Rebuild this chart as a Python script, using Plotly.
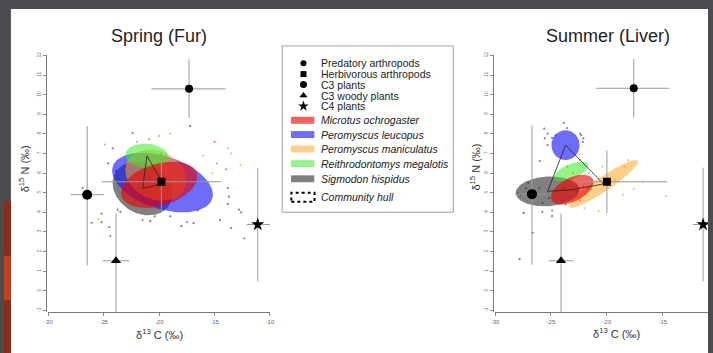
import numpy as np
import plotly.graph_objects as go

W, H = 713, 353

# ---------------- data ----------------
species = ["Microtus ochrogaster", "Peromyscus leucopus", "Peromyscus maniculatus",
           "Reithrodontomys megalotis", "Sigmodon hispidus"]
sp_colors = {"Microtus ochrogaster": "rgba(235,0,0,0.62)",
             "Peromyscus leucopus": "rgba(20,20,245,0.62)",
             "Peromyscus maniculatus": "rgba(255,165,40,0.55)",
             "Reithrodontomys megalotis": "rgba(60,235,40,0.55)",
             "Sigmodon hispidus": "rgba(50,50,50,0.62)"}
dot_colors = {"Microtus ochrogaster": "rgba(220,60,60,0.7)",
              "Peromyscus leucopus": "rgba(60,60,220,0.7)",
              "Peromyscus maniculatus": "rgba(240,160,70,0.7)",
              "Reithrodontomys megalotis": "rgba(90,200,70,0.7)",
              "Sigmodon hispidus": "rgba(70,70,70,0.7)"}
draw_order = ["Sigmodon hispidus", "Peromyscus leucopus", "Peromyscus maniculatus",
              "Reithrodontomys megalotis", "Microtus ochrogaster"]

# Standard ellipses: centre x, centre y, sd x, sd y, correlation
spring_ell = {
    "Microtus ochrogaster":      (-20.0, 5.41, 3.45, 1.18, 0.35),
    "Peromyscus leucopus":       (-19.7, 5.52, 4.55, 1.52, -0.40),
    "Peromyscus maniculatus":    (-20.3, 5.90, 2.75, 1.30, -0.20),
    "Reithrodontomys megalotis": (-21.1, 6.88, 1.94, 0.63, -0.10),
    "Sigmodon hispidus":         (-21.5, 5.22, 2.70, 1.37, -0.20),
}
summer_ell = {
    "Microtus ochrogaster":      (-23.1, 5.16, 1.91, 0.76, 0.50),
    "Peromyscus leucopus":       (-23.7, 7.43, 1.26, 0.76, 0.00),
    "Peromyscus maniculatus":    (-20.3, 5.45, 3.09, 1.22, 0.93),
    "Reithrodontomys megalotis": (-23.2, 6.08, 1.54, 0.51, 0.60),
    "Sigmodon hispidus":         (-25.3, 5.07, 2.85, 0.76, 0.10),
}

# individual consumer values
spring_dots = {
    "Peromyscus leucopus": ([-22.4, -17.2, -26.9, -24.2, -23.0, -16.9, -13.8, -12.6, -14.5, -18.0, -24.6, -23.9],
                            [8.05, 8.41, 5.24, 7.26, 6.3, 3.45, 5.24, 4.0, 3.6, 3.3, 6.5, 6.1]),
    "Microtus ochrogaster": ([-20.9, -15.0, -13.95, -16.5, -24.4, -21.5, -17.5],
                             [7.73, 7.6, 6.2, 4.1, 2.8, 3.6, 3.5]),
    "Peromyscus maniculatus": ([-19.0, -13.8, -13.5, -12.65, -16.0, -25.5, -15.2],
                               [8.02, 7.26, 7.0, 6.42, 6.9, 3.64, 6.0]),
    "Reithrodontomys megalotis": ([-24.9, -20.0, -14.8, -22.0],
                                  [7.46, 7.9, 6.5, 7.6]),
    "Sigmodon hispidus": ([-26.1, -25.2, -25.2, -24.5, -23.75, -23.5, -20.8, -19.0, -20.4, -13.7, -13.8, -13.5, -12.3, -12.8],
                          [3.47, 3.94, 3.5, 3.25, 4.14, 4.03, 3.55, 3.8, 3.8, 4.8, 4.43, 3.2, 2.68, 4.14]),
}
summer_dots = {
    "Peromyscus leucopus": ([-25.6, -25.3, -25.55, -24.9, -24.6, -23.85, -23.55, -22.4, -22.1, -22.15, -22.3, -26.0, -25.3],
                            [8.27, 8.02, 7.77, 7.80, 7.93, 8.57, 8.30, 8.02, 7.77, 7.60, 7.93, 6.62, 7.43]),
    "Sigmodon hispidus": ([-27.97, -27.7, -27.44, -27.24, -27.03, -26.06, -25.76, -25.18, -26.62, -27.8, -25.77, -24.9],
                          [4.98, 4.9, 3.97, 5.24, 5.49, 5.24, 4.48, 4.73, 2.96, 1.61, 4.03, 3.81]),
    "Microtus ochrogaster": ([-23.85, -23.3, -22.7, -22.1, -21.7, -23.7, -22.4, -24.9],
                             [5.24, 4.74, 5.07, 5.32, 5.24, 4.4, 4.6, 4.1]),
    "Peromyscus maniculatus": ([-21.6, -20.4, -19.3, -18.56, -18.4, -18.1, -16.8, -14.73, -20.76, -17.6, -22.0],
                               [6.0, 6.33, 5.66, 4.9, 6.33, 6.66, 5.57, 4.82, 4.06, 5.2, 4.2]),
    "Reithrodontomys megalotis": ([-22.4, -23.55, -23.0, -26.0],
                                  [6.66, 6.33, 6.0, 6.62]),
}

# diet sources: mean and error-bar extents (minus/plus)
source_names = ["Predatory arthropods", "Herbivorous arthropods", "C3 plants",
                "C3 woody plants", "C4 plants"]
source_symbols = ["circle", "square", "circle", "triangle-up", "star"]
source_sizes = [8, 8, 10, 9, 10]

spring_src_x = [-17.3, -19.8, -26.5, -23.9, -11.1]
spring_src_y = [10.3, 5.56, 4.9, 1.53, 3.38]
spring_src_xm = [3.4, 5.4, 1.5, 1.2, 1.0]
spring_src_xp = [3.3, 5.4, 1.5, 1.2, 1.2]
spring_src_ym = [1.5, 1.55, 3.6, 3.0, 2.9]
spring_src_yp = [1.5, 1.5, 3.5, 2.4, 2.9]

summer_src_x = [-17.6, -20.0, -26.7, -24.1, -11.4]
summer_src_y = [10.33, 5.56, 4.93, 1.53, 3.38]
summer_src_xm = [3.4, 2.4, 1.5, 1.1, 0.9]
summer_src_xp = [3.2, 5.4, 1.3, 1.1, 1.2]
summer_src_ym = [1.5, 1.6, 3.6, 3.0, 2.9]
summer_src_yp = [1.5, 1.6, 3.5, 2.4, 2.9]

x_ticks = [-30, -25, -20, -15, -10]
y_ticks = list(range(-1, 13))

# ---------------- helpers ----------------
def px(x):
    return x / W

def py(y):
    return 1 - y / H

def ellipse(cx, cy, sx, sy, r, n=120):
    t = np.linspace(0, 2 * np.pi, n)
    x = cx + sx * np.cos(t)
    y = cy + sy * (r * np.cos(t) + np.sqrt(1 - r * r) * np.sin(t))
    return x, y

def hull(points):
    pts = sorted(set(points))
    def cross(o, a, b):
        return (a[0]-o[0])*(b[1]-o[1]) - (a[1]-o[1])*(b[0]-o[0])
    lower, upper = [], []
    for p in pts:
        while len(lower) >= 2 and cross(lower[-2], lower[-1], p) <= 0:
            lower.pop()
        lower.append(p)
    for p in reversed(pts):
        while len(upper) >= 2 and cross(upper[-2], upper[-1], p) <= 0:
            upper.pop()
        upper.append(p)
    h = lower[:-1] + upper[:-1]
    return h + [h[0]]

fig = go.Figure()

def add_panel(ell, dots, sx_, sy_, sxm, sxp, sym, syp, xa, ya):
    for sp in species:
        dx, dy = dots[sp]
        fig.add_trace(go.Scatter(x=dx, y=dy, mode="markers", xaxis=xa, yaxis=ya,
                                 marker=dict(size=2.2, color=dot_colors[sp]),
                                 hoverinfo="skip"))
    for sp in draw_order:
        ex, ey = ellipse(*ell[sp])
        fig.add_trace(go.Scatter(x=ex, y=ey, mode="lines", fill="toself",
                                 fillcolor=sp_colors[sp], line=dict(width=0),
                                 xaxis=xa, yaxis=ya, name=sp))
    h = hull([(ell[sp][0], ell[sp][1]) for sp in species])
    fig.add_trace(go.Scatter(x=[p[0] for p in h], y=[p[1] for p in h], mode="lines",
                             line=dict(color="#222", width=0.8), xaxis=xa, yaxis=ya))
    for i, nm in enumerate(source_names):
        fig.add_trace(go.Scatter(
            x=[sx_[i]], y=[sy_[i]], mode="markers", xaxis=xa, yaxis=ya, name=nm,
            marker=dict(symbol=source_symbols[i], size=source_sizes[i], color="black"),
            error_x=dict(type="data", symmetric=False, array=[sxp[i]], arrayminus=[sxm[i]],
                         color="#9a9a9a", thickness=1, width=0),
            error_y=dict(type="data", symmetric=False, array=[syp[i]], arrayminus=[sym[i]],
                         color="#9a9a9a", thickness=1, width=0)))

add_panel(spring_ell, spring_dots, spring_src_x, spring_src_y, spring_src_xm, spring_src_xp,
          spring_src_ym, spring_src_yp, "x", "y")
add_panel(summer_ell, summer_dots, summer_src_x, summer_src_y, summer_src_xm, summer_src_xp,
          summer_src_ym, summer_src_yp, "x2", "y2")

ax_common = dict(showgrid=False, zeroline=False, showline=True, linecolor="#7a7a7a",
                 linewidth=1, ticks="outside", ticklen=3, tickcolor="#8a8a8a",
                 tickfont=dict(size=6, color="#666", family="Liberation Sans"))
ydom = [py(312), py(52)]
yrange = [-1.10, 12.05]

fig.update_layout(
    width=W, height=H, margin=dict(l=0, r=0, t=0, b=0),
    paper_bgcolor="#4b4b50", plot_bgcolor="rgba(0,0,0,0)", showlegend=False,
    font=dict(family="Liberation Sans", color="#222"),
    xaxis=dict(domain=[px(45), px(269.3)], range=[-30, -10], anchor="y",
               tickvals=x_ticks, ticktext=[str(v) for v in x_ticks], **ax_common),
    yaxis=dict(domain=ydom, range=yrange, anchor="free", position=px(43),
               tickvals=y_ticks, ticktext=[str(v) for v in y_ticks], tickangle=-90,
               **ax_common),
    xaxis2=dict(domain=[px(497.3), 1.0], range=[-30, -30 + 215.7 / 11.33], anchor="y2",
                tickvals=x_ticks, ticktext=[str(v) for v in x_ticks], **ax_common),
    yaxis2=dict(domain=ydom, range=yrange, anchor="free", position=px(495),
                tickvals=y_ticks, ticktext=[str(v) for v in y_ticks], tickangle=-90,
                **ax_common),
)
fig.update_yaxes(tickfont=dict(size=5, color="#777"))

shapes = [
    dict(type="rect", xref="paper", yref="paper", x0=px(7), x1=1.0, y0=0, y1=py(6),
         fillcolor="white", line=dict(width=0), layer="below"),
    dict(type="rect", xref="paper", yref="paper", x0=0, x1=px(7), y0=0, y1=py(200),
         fillcolor="#8a2a1a", line=dict(width=0), layer="below"),
    dict(type="rect", xref="paper", yref="paper", x0=0, x1=px(7), y0=py(300), y1=py(255),
         fillcolor="#c0401e", line=dict(width=0), layer="below"),
    # legend box
    dict(type="rect", xref="paper", yref="paper", x0=px(281.7), x1=px(455), y0=py(211),
         y1=py(43.3), fillcolor="white", line=dict(color="#a0a0a0", width=1), layer="below"),
]

def ann(text, x, y, size, xanchor="center", angle=0, color="#222"):
    return dict(text=text, x=px(x), y=py(y), xref="paper", yref="paper", showarrow=False,
                xanchor=xanchor, yanchor="middle", textangle=angle,
                font=dict(size=size, color=color))

annotations = [
    ann("Spring (Fur)", 157, 33, 18),
    ann("Summer (Liver)", 612, 33, 18),
    ann("δ<sup>15</sup> N (‰)", 20, 167, 11, angle=-90, color="#333"),
    ann("δ<sup>15</sup> N (‰)", 477, 165, 11, angle=-90, color="#333"),
    ann("δ<sup>13</sup> C (‰)", 157, 334, 11, color="#333"),
    ann("δ<sup>13</sup> C (‰)", 620, 333, 11, color="#333"),
]

# legend contents
leg_y_src = [60.7, 71.7, 82.3, 93.3, 104.0]
leg_y_sp = [118.3, 132.7, 147.3, 162.0, 177.3]
leg_sym_sizes = [6, 6, 7, 7, 8]
for i, nm in enumerate(source_names):
    fig.add_trace(go.Scatter(x=[px(303.3)], y=[py(leg_y_src[i])], xaxis="x3", yaxis="y3",
                             mode="markers",
                             marker=dict(symbol=source_symbols[i], size=leg_sym_sizes[i], color="black")))
    annotations.append(ann(nm, 319.3, leg_y_src[i], 10.5, xanchor="left"))
for i, sp in enumerate(species):
    shapes.append(dict(type="rect", xref="paper", yref="paper", x0=px(290.7), x1=px(314.3),
                       y0=py(leg_y_sp[i] + 3.5), y1=py(leg_y_sp[i] - 3.5),
                       fillcolor=sp_colors[sp], line=dict(width=0)))
    annotations.append(ann("<i>" + sp + "</i>", 319.3, leg_y_sp[i], 10.5, xanchor="left"))
shapes.append(dict(type="rect", xref="paper", yref="paper", x0=px(291), x1=px(314.5),
                   y0=py(200.5), y1=py(191.5), line=dict(color="black", width=2, dash="dot")))
annotations.append(ann("<i>Community hull</i>", 319.3, 195.7, 10.5, xanchor="left"))

fig.update_layout(
    shapes=shapes, annotations=annotations,
    xaxis3=dict(domain=[0, 1], range=[0, 1], visible=False, anchor="y3"),
    yaxis3=dict(domain=[0, 1], range=[0, 1], visible=False, anchor="x3"),
)

fig.write_html("out.html", config={"displayModeBar": False},
               post_script="document.body.style.margin='0';document.body.style.padding='0';"
                           "document.body.style.overflow='hidden';")
